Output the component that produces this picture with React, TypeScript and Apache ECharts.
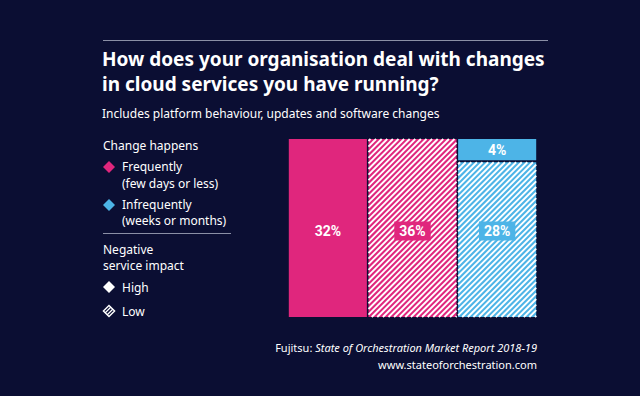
import React, { useEffect, useRef } from 'react';
import * as echarts from 'echarts';

// ---- data ----
const titleLines = ['How does your organisation deal with changes', 'in cloud services you have running?'];
const subtitle = 'Includes platform behaviour, updates and software changes';
const changeHeading = 'Change happens';
const changeGroups = ['Frequently', 'Infrequently'];
const changeSub = ['(few days or less)', '(weeks or months)'];
const impactHeading = ['Negative', 'service impact'];
const impactLevels = ['High', 'Low'];
// segments of the mosaic (column = change frequency, stacked = impact)
const segChange = ['Frequently', 'Frequently', 'Infrequently', 'Infrequently'];
const segImpact = ['High', 'Low', 'High', 'Low'];
const segColumn = [0, 1, 2, 2];
const segValues = [32, 36, 4, 28];
const sourceLabel = 'Fujitsu: ';
const sourceTitle = 'State of Orchestration Market Report 2018-19';
const sourceUrl = 'www.stateoforchestration.com';

const BG = '#0b0e33';
const PINK = '#e0267d';
const BLUE = '#4db4e7';
const LINE = '#8b8fa6';
const changeColors: Record<string, string> = { Frequently: PINK, Infrequently: BLUE };
const FONT = '"Noto Sans", sans-serif';

function buildData() {
  const nCols = Math.max(...segColumn) + 1;
  const totals = new Array(nCols).fill(0);
  segValues.forEach((v, i) => (totals[segColumn[i]] += v));
  const starts: number[] = [];
  let acc = 0;
  totals.forEach((t) => { starts.push(acc); acc += t; });
  const stackAcc = new Array(nCols).fill(0);
  return segValues.map((v, i) => {
    const c = segColumn[i];
    const y0 = stackAcc[c] / totals[c];
    stackAcc[c] += v;
    const y1 = stackAcc[c] / totals[c];
    return { value: [starts[c], starts[c] + totals[c], y0, y1, i], name: segChange[i] + ' / ' + segImpact[i] };
  });
}

export default function App() {
  const ref = useRef<HTMLDivElement>(null);
  useEffect(() => {
    const chart = echarts.init(ref.current!, null, { renderer: 'svg' });
    const data = buildData();

    const renderItem = (params: any, api: any) => {
      const x0 = api.value(0), x1 = api.value(1), y0 = api.value(2), y1 = api.value(3), idx = api.value(4);
      const p0 = api.coord([x0, y0]);
      const p1 = api.coord([x1, y1]);
      const gap = 0.8;
      const left = p0[0] + gap;
      const right = p1[0] - gap;
      const top = p0[1] + (y0 > 0 ? 1 : 0);
      const bottom = p1[1] - (y1 < 1 ? 1 : 0);
      const color = changeColors[segChange[idx]];
      const hatched = segImpact[idx] === 'Low';
      const children: any[] = [
        { type: 'rect', shape: { x: left, y: top, width: right - left, height: bottom - top }, style: { fill: color } },
      ];
      if (hatched) {
        const step = 5.6;
        for (let c = left + top + 2; c < right + bottom; c += step) {
          const xa = Math.max(left, c - bottom);
          const xb = Math.min(right, c - top);
          if (xb > xa) {
            children.push({
              type: 'line',
              shape: { x1: xa, y1: c - xa, x2: xb, y2: c - xb },
              style: { stroke: '#ffffff', lineWidth: 1.9 },
              silent: true,
            });
          }
        }
      }
      // label sits at the column's middle when the segment covers it
      const labelY = y0 <= 0.5 && y1 >= 0.5 ? api.coord([x0, 0.5])[1] + 3 : (top + bottom) / 2;
      children.push({
        type: 'text',
        style: {
          text: segValues[idx] + '%',
          x: (left + right) / 2,
          y: labelY,
          align: 'center', textAlign: 'center',
          verticalAlign: 'middle', textVerticalAlign: 'middle',
          fill: '#ffffff',
          font: 'bold 14px Roboto, sans-serif',
          backgroundColor: hatched ? color : undefined,
          padding: hatched ? [3, 5, 2, 5] : 0,
        },
      });
      return { type: 'group', children };
    };

    const txt = (x: number, y: number, text: string, extra: any = {}) => ({
      type: 'text', x, y,
      style: { text, fill: '#ffffff', font: '12px ' + FONT, textVerticalAlign: 'middle', ...extra },
    });
    const diamond = (cx: number, cy: number, r: number, style: any) => ({
      type: 'polygon', shape: { points: [[cx, cy - r], [cx + r, cy], [cx, cy + r], [cx - r, cy]] }, style,
    });

    const graphic: any[] = [
      { type: 'line', shape: { x1: 103, y1: 40.5, x2: 548, y2: 40.5 }, style: { stroke: LINE, lineWidth: 1.2 } },
      txt(102, 59, titleLines[0], { font: 'bold 19px ' + FONT }),
      txt(102, 84, titleLines[1], { font: 'bold 19px ' + FONT }),
      txt(102, 113, subtitle, { font: '12px ' + FONT }),
      txt(103, 145, changeHeading),
      diamond(109, 167, 6, { fill: changeColors[changeGroups[0]] }),
      txt(122, 166, changeGroups[0]),
      txt(122, 183, changeSub[0]),
      diamond(109, 205, 6, { fill: changeColors[changeGroups[1]] }),
      txt(122, 204, changeGroups[1]),
      txt(122, 220, changeSub[1]),
      { type: 'line', shape: { x1: 103, y1: 233.5, x2: 231, y2: 233.5 }, style: { stroke: LINE, lineWidth: 1.2 } },
      txt(103, 249, impactHeading[0]),
      txt(103, 265, impactHeading[1]),
      diamond(109, 287, 6, { fill: '#ffffff' }),
      txt(122, 287, impactLevels[0]),
      diamond(109, 311, 5.6, { fill: 'none', stroke: '#ffffff', lineWidth: 1.4 }),
      { type: 'line', shape: { x1: 105, y1: 313, x2: 111, y2: 307 }, style: { stroke: '#ffffff', lineWidth: 1.2 } },
      { type: 'line', shape: { x1: 107, y1: 315, x2: 113, y2: 309 }, style: { stroke: '#ffffff', lineWidth: 1.2 } },
      txt(122, 311, impactLevels[1]),
      {
        type: 'text', x: 537, y: 347,
        style: {
          text: '{a|' + sourceLabel + '}{b|' + sourceTitle + '}',
          textAlign: 'right', textVerticalAlign: 'middle',
          rich: {
            a: { fill: '#ffffff', font: '11px ' + FONT },
            b: { fill: '#ffffff', font: 'italic 11px ' + FONT },
          },
        },
      },
      txt(537, 364, sourceUrl, { font: '11px ' + FONT, textAlign: 'right' }),
    ];

    chart.setOption({
      animation: false,
      backgroundColor: BG,
      grid: { left: 288, right: 103, top: 139, bottom: 79 },
      xAxis: { type: 'value', min: 0, max: 100, show: false },
      yAxis: { type: 'value', min: 0, max: 1, inverse: true, show: false },
      series: [{ type: 'custom', renderItem, data, clip: false }],
      graphic,
    });
    return () => chart.dispose();
  }, []);
  return <div ref={ref} style={{ width: 640, height: 396, position: 'absolute', left: 0, top: 0 }} />;
}
